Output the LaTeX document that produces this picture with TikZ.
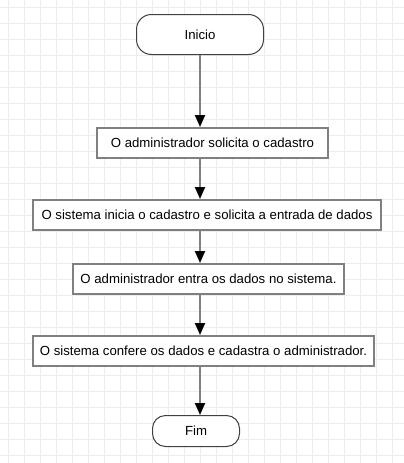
\documentclass[tikz,border=0pt]{standalone}
\usepackage{fontspec}
\setmainfont{Liberation Sans}
\usepackage{xcolor}
\usepackage{tikz}
\usetikzlibrary{arrows.meta}
\definecolor{gridc}{HTML}{EDEDED}
\definecolor{edge}{HTML}{808080}
\definecolor{termc}{HTML}{404040}
\tikzset{
  gridline/.style={draw=gridc, line width=1pt},
  act/.style={draw=edge, fill=white, line width=2pt, minimum height=30pt, inner sep=0pt, font=\fontsize{13.2}{15}\selectfont},
  term/.style={draw=termc, fill=white, line width=1pt, rounded corners=15pt, inner sep=0pt, font=\fontsize{13.2}{15}\selectfont},
  flow/.style={draw=edge, line width=2pt, -{Triangle[width=10pt,length=12pt,color=black]}},
}

\begin{document}
\begin{tikzpicture}[x=1pt,y=-1pt]
  \useasboundingbox (0,0) rectangle (404,463);
  \fill[white] (0,0) rectangle (404,463);
  % background grid
  \foreach \gx in {8,24,...,400} \draw[gridline] (\gx,0) -- (\gx,463);
  \foreach \gy in {7,23,...,460} \draw[gridline] (0,\gy) -- (404,\gy);
  \coordinate (ax) at (200,0);
  \node[term, minimum width=127pt, minimum height=40pt] (ini) at (200,34.5) {Inicio};
  \node[act, minimum width=231pt] (s1) at (212.5,143) {O administrador solicita o cadastro};
  \node[act, minimum width=348pt] (s2) at (207,215) {O sistema inicia o cadastro e solicita a entrada de dados};
  \node[act, minimum width=271pt] (s3) at (208.5,279) {O administrador entra os dados no sistema.};
  \node[act, minimum width=341pt] (s4) at (203.5,351) {O sistema confere os dados e cadastra o administrador.};
  \node[term, minimum width=87pt, minimum height=31pt, rounded corners=13pt] (fim) at (196,431) {Fim};
  % connectors
  \draw[flow] (ini.south) -- (ax |- s1.north);
  \draw[flow] (ax |- s1.south) -- (ax |- s2.north);
  \draw[flow] (ax |- s2.south) -- (ax |- s3.north);
  \draw[flow] (ax |- s3.south) -- (ax |- s4.north);
  \draw[flow] (ax |- s4.south) -- (ax |- fim.north);
\end{tikzpicture}
\end{document}
